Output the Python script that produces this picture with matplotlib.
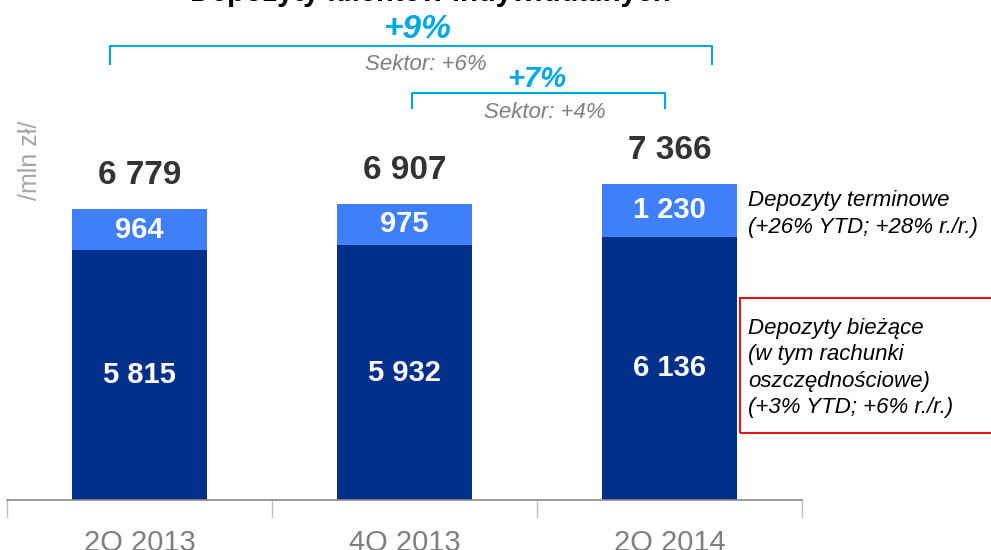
from matplotlib import pyplot as plt
from matplotlib.patches import Rectangle

plt.rcParams['font.family'] = ['Liberation Sans', 'DejaVu Sans']

# dane
categories = ['2Q 2013', '4Q 2013', '2Q 2014']
biezace = [5815, 5932, 6136]
terminowe = [964, 975, 1230]
totals = [6779, 6907, 7366]

def fmt(v):
	return '{:,}'.format(v).replace(',', ' ')

DARK = '#00308A'
LIGHT = '#3F80F8'
CYAN = '#00A9E6'
GREY = '#7F7F7F'

fig = plt.figure(figsize=(9.91, 5.5), dpi=100)
ax = fig.add_axes([7/991, 50/550, 795/991, 500/550])

x = range(len(categories))
ax.bar(x, biezace, width=0.51, color=DARK)
ax.bar(x, terminowe, width=0.51, bottom=biezace, color=LIGHT)

for i in x:
	ax.text(i, biezace[i] / 2, fmt(biezace[i]), ha='center', va='center',
		color='white', fontsize=21, fontweight='bold')
	ax.text(i, biezace[i] + terminowe[i] / 2, fmt(terminowe[i]), ha='center', va='center',
		color='white', fontsize=21, fontweight='bold')
	ax.text(i, totals[i] + 580, fmt(totals[i]), ha='center', va='baseline',
		color='#333333', fontsize=24, fontweight='bold')

ax.set_xlim(-0.5, 2.5)
ax.set_ylim(0, 11650)
ax.set_yticks([])
ax.set_xticks([])
for s in ['top', 'right', 'left']:
	ax.spines[s].set_visible(False)
ax.spines['bottom'].set_color('#8C8C8C')
ax.spines['bottom'].set_linewidth(1.2)
ax.patch.set_visible(False)

# kreski podzialu kategorii
for b in [-0.5, 0.5, 1.5, 2.5]:
	ax.plot([b, b], [0, -400], color='#BFBFBF', lw=1, clip_on=False)

# etykiety osi - uciete dolem jak w oryginale
for i, c in enumerate(categories):
	ax.text(i, -1000, c, ha='center', va='center', color=GREY, fontsize=21, clip_on=False)

# tytul (uciety u gory)
fig.text(430/991, 1 - 1/550, 'Depozyty klientów indywidualnych', ha='center', va='baseline',
	fontsize=21, fontweight='bold', color='black')

# nawiasy
def bracket(x0, x1, y, y2, lab, sek, ylab, ysek, xlab, fs):
	fig.add_artist(plt.Line2D([x0/991, x0/991, x1/991, x1/991],
		[1 - y2/550, 1 - y/550, 1 - y/550, 1 - y2/550], color=CYAN, lw=1.5))
	fig.text(xlab/991, 1 - ylab/550, lab, ha='center', va='center', color=CYAN,
		fontsize=fs, fontweight='bold', style='italic')
	fig.text((xlab + 8)/991, 1 - ysek/550, sek, ha='center', va='center', color=GREY,
		fontsize=16, style='italic')

bracket(110, 712, 46, 64, '+9%', 'Sektor: +6%', 29, 65, 418, 24)
bracket(412, 665, 93, 108, '+7%', 'Sektor: +4%', 79, 112, 537, 21)

fig.text(30/991, 1 - 160/550, '/mln zł/', rotation=90, ha='center', va='center',
	color='#A6A6A6', fontsize=18)

fig.text(748/991, 1 - 214/550, 'Depozyty terminowe\n(+26% YTD; +28% r./r.)', ha='left',
	va='center', fontsize=16, style='italic', linespacing=1.38)

fig.add_artist(Rectangle((740/991, 1 - 433/550), 260/991, 135/550, fill=False,
	edgecolor='#E8101A', lw=1.5, transform=fig.transFigure))
fig.text(748/991, 1 - 368/550,
	'Depozyty bieżące\n(w tym rachunki\noszczędnościowe)\n(+3% YTD; +6% r./r.)',
	ha='left', va='center', fontsize=16, style='italic', linespacing=1.33)

fig.savefig('out.png', dpi=100)
